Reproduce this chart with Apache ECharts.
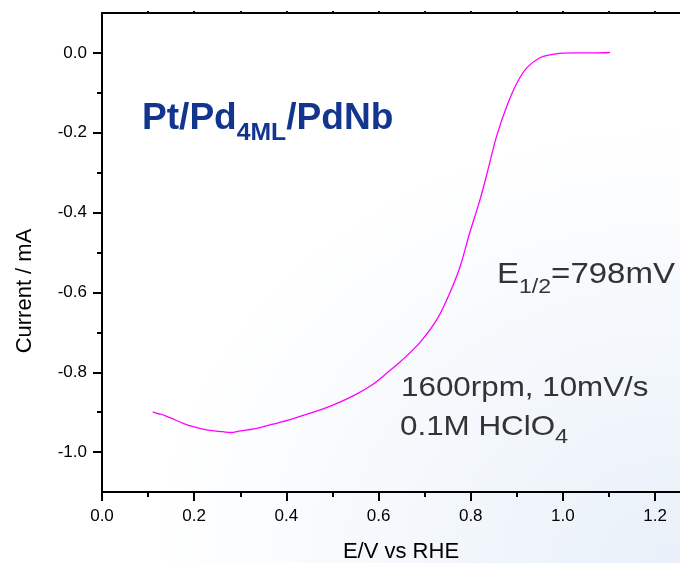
<!DOCTYPE html>
<html>
<head>
<meta charset="utf-8">
<title>ORR polarization curve</title>
<script src="https://cdn.jsdelivr.net/npm/echarts@6/dist/echarts.min.js"></script>
<style>
html, body { margin: 0; padding: 0; }
body {
    width: 680px; height: 563px;
    background: radial-gradient(ellipse at 100% 100%, #e9f0f9 0%, #f4f8fc 28%, #ffffff 55%);
}
#main { width: 680px; height: 563px; }
</style>
</head>
<body>
<div id="main"></div>
<script>
// potential (V vs RHE) and disk current (mA)
var potential = [0.110, 0.120, 0.135, 0.150, 0.176, 0.200, 0.230, 0.262, 0.280, 0.300,
    0.330, 0.371, 0.410, 0.445, 0.480, 0.516, 0.550, 0.588, 0.620, 0.646,
    0.690, 0.727, 0.755, 0.777, 0.798, 0.820, 0.838, 0.856, 0.878, 0.900,
    0.921, 0.950, 0.975, 0.993, 1.030, 1.070, 1.102];
var current = [-0.899, -0.903, -0.908, -0.915, -0.928, -0.937, -0.945, -0.949, -0.951, -0.947,
    -0.942, -0.930, -0.918, -0.905, -0.892, -0.875, -0.856, -0.830, -0.800, -0.775,
    -0.725, -0.667, -0.600, -0.535, -0.450, -0.368, -0.290, -0.209, -0.134, -0.076,
    -0.038, -0.012, -0.004, -0.001, 0.000, 0.000, 0.001];

var xMajor = [0, 0.2, 0.4, 0.6, 0.8, 1.0, 1.2];
var xMinor = [0.1, 0.3, 0.5, 0.7, 0.9, 1.1];
var xTop = [0.1, 0.2, 0.3, 0.4, 0.5, 0.6, 0.7, 0.8, 0.9, 1.0, 1.1, 1.2];
var yMajor = [0, -0.2, -0.4, -0.6, -0.8, -1.0];
var yMinor = [-0.1, -0.3, -0.5, -0.7, -0.9];

var font = 'Liberation Sans, Arial, sans-serif';
var navy = '#12358e';
var grey = '#333333';

var points = [];
for (var i = 0; i < potential.length; i++) {
    points.push([potential[i], current[i]]);
}

function fmt(v) { return v.toFixed(1); }

var myChart = echarts.init(document.getElementById('main'), null, { renderer: 'canvas' });

var option = {
    backgroundColor: 'transparent',
    animation: false,
    grid: { left: 102, right: 0, top: 13, bottom: 71 },
    xAxis: [
        {
            type: 'value', position: 'bottom', min: 0, max: 1.254,
            axisLine: { show: true, onZero: false, lineStyle: { color: '#000', width: 2 } },
            axisTick: { show: true, customValues: xMajor, length: 9, lineStyle: { color: '#000', width: 2 } },
            axisLabel: { customValues: xMajor, formatter: fmt, margin: 16, color: '#000', fontSize: 17, fontFamily: font },
            splitLine: { show: false }
        },
        {
            type: 'value', position: 'bottom', min: 0, max: 1.254,
            axisLine: { show: false, onZero: false },
            axisTick: { show: true, customValues: xMinor, length: 5, lineStyle: { color: '#000', width: 2 } },
            axisLabel: { show: false },
            splitLine: { show: false }
        },
        {
            type: 'value', position: 'top', min: 0, max: 1.254,
            axisLine: { show: true, onZero: false, lineStyle: { color: '#000', width: 2 } },
            axisTick: { show: true, customValues: xTop, length: 2, lineStyle: { color: '#000', width: 2 } },
            axisLabel: { show: false },
            splitLine: { show: false }
        }
    ],
    yAxis: [
        {
            type: 'value', position: 'left', min: -1.1, max: 0.1,
            axisLine: { show: true, onZero: false, lineStyle: { color: '#000', width: 2 } },
            axisTick: { show: true, customValues: yMajor, length: 9, lineStyle: { color: '#000', width: 2 } },
            axisLabel: { customValues: yMajor, formatter: fmt, margin: 15, color: '#000', fontSize: 17, fontFamily: font },
            splitLine: { show: false }
        },
        {
            type: 'value', position: 'left', min: -1.1, max: 0.1,
            axisLine: { show: false, onZero: false },
            axisTick: { show: true, customValues: yMinor, length: 5, lineStyle: { color: '#000', width: 2 } },
            axisLabel: { show: false },
            splitLine: { show: false }
        }
    ],
    series: [
        {
            type: 'line',
            xAxisIndex: 0,
            yAxisIndex: 0,
            data: points,
            showSymbol: false,
            smooth: 0.35,
            lineStyle: { color: '#ff00ff', width: 1.3 }
        }
    ],
    graphic: [
        {
            type: 'text', x: 25, y: 291, rotation: Math.PI / 2,
            style: { text: 'Current / mA', fontSize: 22, fontFamily: font, fill: '#000', align: 'center', verticalAlign: 'middle' }
        },
        {
            type: 'text', x: 401, y: 552,
            style: { text: 'E/V vs RHE', fontSize: 22, fontFamily: font, fill: '#000', align: 'center', verticalAlign: 'middle' }
        },
        {
            type: 'text', x: 142, y: 119, scaleX: 1.03,
            style: {
                text: '{a|Pt/Pd}{b|4ML}{a|/PdNb}',
                align: 'left', verticalAlign: 'middle',
                rich: {
                    a: { fontSize: 36, fontWeight: 'bold', fontFamily: font, fill: navy },
                    b: { fontSize: 24, fontWeight: 'bold', fontFamily: font, fill: navy, padding: [28, 0, 0, 0] }
                }
            }
        },
        {
            type: 'text', x: 497, y: 275, scaleX: 1.1,
            style: {
                text: '{m|E}{s|1/2}{m|=798mV}',
                align: 'left', verticalAlign: 'middle',
                rich: {
                    m: { fontSize: 30, fontFamily: font, fill: grey },
                    s: { fontSize: 21, fontFamily: font, fill: grey, padding: [24, 0, 0, 0] }
                }
            }
        },
        {
            type: 'text', x: 401, y: 388, scaleX: 1.12,
            style: { text: '1600rpm, 10mV/s', fontSize: 28, fontFamily: font, fill: grey, align: 'left', verticalAlign: 'middle' }
        },
        {
            type: 'text', x: 400, y: 427, scaleX: 1.12,
            style: {
                text: '{m|0.1M HClO}{s|4}',
                align: 'left', verticalAlign: 'middle',
                rich: {
                    m: { fontSize: 28, fontFamily: font, fill: grey },
                    s: { fontSize: 21, fontFamily: font, fill: grey, padding: [21, 0, 0, 0] }
                }
            }
        }
    ]
};

myChart.setOption(option);
</script>
</body>
</html>
